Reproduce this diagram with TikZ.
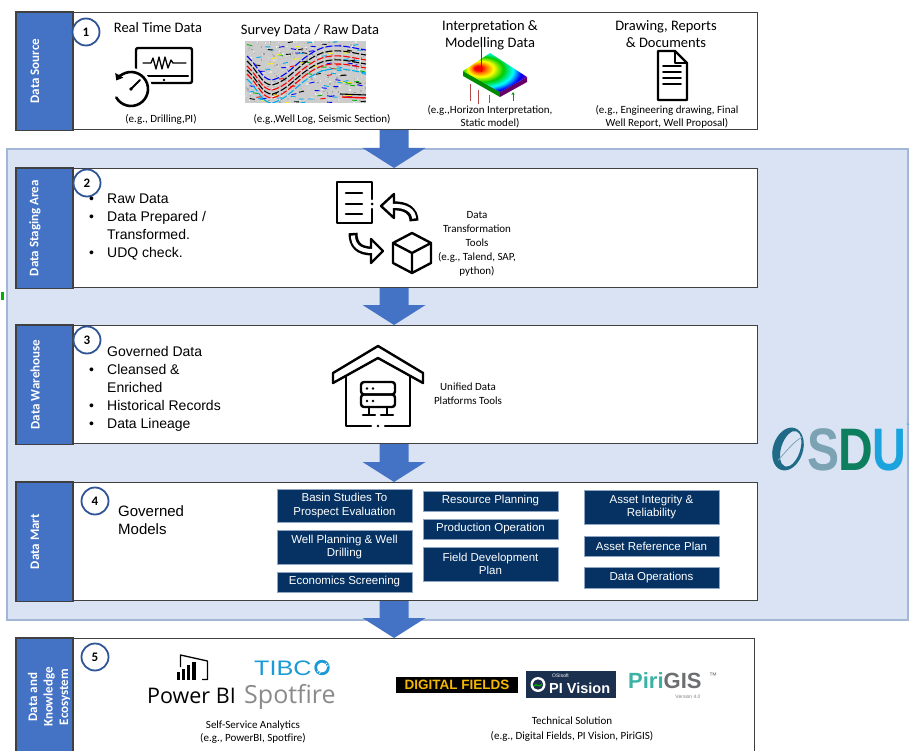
\documentclass[tikz,border=0pt]{standalone}
\usepackage{fontspec}
\setmainfont{Carlito}
\newfontfamily\arialf{Liberation Sans}
\newfontfamily\opensf{Open Sans}
\usetikzlibrary{arrows.meta}

\definecolor{bandblue}{HTML}{4472C4}
\definecolor{flowblue}{HTML}{4472C4}
\definecolor{panelfill}{HTML}{DAE3F3}
\definecolor{paneledge}{HTML}{A3B6D6}
\definecolor{boxedge}{HTML}{404040}
\definecolor{ringblue}{HTML}{2F5597}
\definecolor{navy}{HTML}{053263}
\definecolor{navyedge}{HTML}{8FA5C2}
\definecolor{tibco}{HTML}{1C9AD6}
\definecolor{spotgrey}{HTML}{8A8A8A}
\definecolor{dfyellow}{HTML}{F5B800}
\definecolor{pinavy}{HTML}{1B2F4E}
\definecolor{piri}{HTML}{3BB3A4}
\definecolor{gisgrey}{HTML}{6D6E70}
\definecolor{osdO}{HTML}{1F6B87}
\definecolor{osdS}{HTML}{7BA3B3}
\definecolor{osdD}{HTML}{0E7F5E}
\definecolor{osdU}{HTML}{1AA3DD}

% colour map of the horizon model
\pgfdeclareradialshading{heatmap}{\pgfpoint{-14bp}{6bp}}{color(0bp)=(red!90!black); color(3bp)=(red); color(6bp)=(orange); color(10bp)=(yellow); color(16bp)=(green!80!black); color(22bp)=(cyan); color(27bp)=(blue); color(32bp)=(violet); color(50bp)=(magenta!60!blue)}

% wide blue arrow from the bottom of one stage to the top of the next
\newcommand\blockarrow[2]{%
  \fill[flowblue] ([xshift=-7.5pt]#1.south) -- ([xshift=21.5pt]#1.south)
    -- ([xshift=21.5pt,yshift=20pt]#1.south |- #2.north)
    -- ([xshift=38.5pt,yshift=20pt]#1.south |- #2.north)
    -- ([xshift=7pt]#1.south |- #2.north)
    -- ([xshift=-24.5pt,yshift=20pt]#1.south |- #2.north)
    -- ([xshift=-7.5pt,yshift=20pt]#1.south |- #2.north) -- cycle;}

\begin{document}
\begin{tikzpicture}[x=1pt,y=-1pt,
  stage/.style={draw=boxedge, line width=1.1, fill=white, anchor=north west, inner sep=0, minimum width=741},
  band/.style={fill=bandblue, draw=boxedge, line width=1.1},
  bandtxt/.style={text=white, rotate=90, align=center, inner sep=0, font=\bfseries\fontsize{13}{15.5}\selectfont},
  stepno/.style={circle, draw=ringblue, line width=1.8, fill=white, minimum size=27, inner sep=0, font=\bfseries\fontsize{13}{13}\selectfont},
  head/.style={align=center, inner sep=0, font=\fontsize{14.5}{17.5}\selectfont},
  note/.style={align=center, inner sep=0, font=\fontsize{11}{13}\selectfont},
  tool/.style={align=center, inner sep=0, font=\fontsize{11}{14}\selectfont},
  btxt/.style={anchor=base west, inner sep=0, font=\arialf\fontsize{14}{18}\selectfont},
  model/.style={fill=navy, draw=navyedge, line width=0.6, text=white, align=center, inner sep=0, minimum width=135, font=\arialf\fontsize{11.5}{13.5}\selectfont},
  icon/.style={line width=2.4, line join=round, line cap=round},
]
\useasboundingbox (0,0) rectangle (910,751);
\fill[white] (0,0) rectangle (910,751);

% shared background of stages 2-4
\filldraw[fill=panelfill, draw=paneledge, line width=1.2] (7,149) rectangle (908,620);
\fill[green!70!black] (1,292) rectangle (4,300);

% stage frames
\node[stage, minimum height=117] (s1) at (16,12) {};
\node[stage, minimum height=119] (s2) at (16,168) {};
\node[stage, minimum height=118] (s3) at (16,325) {};
\node[stage, minimum height=118] (s4) at (16,482) {};
\node[stage, minimum height=125, minimum width=738] (s5) at (16,638) {};

\blockarrow{s1}{s2}
\blockarrow{s2}{s3}
\blockarrow{s3}{s4}
\blockarrow{s4}{s5}

% side bands
\filldraw[band] (s1.north west) rectangle ([xshift=57pt]s1.south west);
\filldraw[band] (s2.north west) rectangle ([xshift=57pt]s2.south west);
\filldraw[band] (s3.north west) rectangle ([xshift=57pt]s3.south west);
\filldraw[band] (s4.north west) rectangle ([xshift=57pt]s4.south west);
\filldraw[band] (s5.north west) rectangle ([xshift=57pt]s5.south west);
\node[bandtxt] (b1) at ([xshift=19pt]s1.west) {Data Source};
\node[bandtxt] (b2) at ([xshift=19pt]s2.west) {Data Staging Area};
\node[bandtxt] (b3) at ([xshift=19pt]s3.west) {Data Warehouse};
\node[bandtxt] (b4) at ([xshift=19pt]s4.west) {Data Mart};
\node[bandtxt] (b5) at (49,697) {Data and\\Knowledge\\Ecosystem};

% step numbers
\node[stepno] (n1) at (86,32) {1};
\node[stepno] (n2) at (87,183) {2};
\node[stepno] (n3) at (87,340) {3};
\node[stepno] (n4) at (95,501) {4};
\node[stepno] (n5) at (95,657) {5};

% ---------------- stage 1: data source ----------------
\node[head] (t11) at (158,28) {Real Time Data};
\node[head] (t12) at (310,31) {Survey Data / Raw Data};
\node[head] (t13) at (490,35) {Interpretation \&\\Modelling Data};
\node[head] (t14) at (666,34) {Drawing, Reports\\\& Documents};
\node[note] (e11) at (161,119) {(e.g., Drilling,PI)};
\node[note] (e12) at (322,119) {(e.g.,Well Log, Seismic Section)};
\node[note] (e13) at (490,116.5) {(e.g.,Horizon Interpretation,\\Static model)};
\node[note] (e14) at (667,116.5) {(e.g., Engineering drawing, Final\\Well Report, Well Proposal)};

% monitor with a pulse and a clock
\begin{scope}[icon]
  \draw[rounded corners=2] (136,48) rectangle (192,83);
  \draw (140,76) -- (188,76);
  \fill (164,80) circle (1.3);
  \draw[line width=1.3] (143,63) -- (151,63) -- (153,58) -- (156,69) -- (159,57) -- (162,69) -- (165,57) -- (168,68) -- (171,60) -- (173,63) -- (186,63);
  \fill[white] (131,89) circle (21);
  \draw[line width=2.6, -{Triangle[length=6pt,width=9pt]}] (131,89) ++(150:17) arc[start angle=150, end angle=-150, radius=17];
  \draw[line width=1.8] (131,89) -- (140,80);
  \fill (131,89) circle (1.8);
\end{scope}

% seismic section
\begin{scope}
  \clip (245,41) rectangle (366,103);
  \fill[gray!40] (245,41) rectangle (366,103);
  \pgfmathsetseed{11}
  \foreach \k in {1,...,420}{
    \pgfmathsetmacro\sx{245+121*rnd}
    \pgfmathsetmacro\sy{41+62*rnd}
    \pgfmathsetmacro\gs{int(10+70*rnd)}
    \fill[gray!\gs] (\sx,\sy) rectangle ++(1.5,1.5);
  }
  \pgfmathdeclarerandomlist{seis}{{blue}{cyan}{yellow}{red}{black}{blue}{cyan}{green!70!black}}
  \foreach \k in {1,...,110}{
    \pgfmathsetmacro\sx{243+120*rnd}
    \pgfmathsetmacro\sy{41+62*rnd}
    \pgfmathrandomitem{\sc}{seis}
    \draw[\sc, line width=0.9] (\sx,\sy) -- ++(5,{1.2*rand});
  }
  \foreach \dy/\cc in {-10/blue, -5/black, 0/red, 4/black, 8/red, 13/cyan}{
    \draw[\cc, line width=1.1, dash pattern=on 7pt off 2pt] (247,{66+\dy}) .. controls (258,{76+\dy}) and (262,{90+\dy}) .. (272,{90+\dy}) .. controls (290,{86+\dy}) and (300,{66+\dy}) .. (322,{58+\dy}) .. controls (338,{53+\dy}) and (352,{58+\dy}) .. (366,{60+\dy});
  }
  \draw[red, line width=1.4] (342,97) -- (366,98);
  \draw[black, line width=1.1] (340,94) -- (366,95);
\end{scope}

% horizon model block
\fill[green!55!black] (463,71) -- (500,92) -- (500,97) -- (463,76) -- cycle;
\fill[violet!80!black] (500,92) -- (527,77) -- (527,82) -- (500,97) -- cycle;
\shade[shading=heatmap] (463,71) -- (490,53) -- (527,77) -- (500,92) -- cycle;
\draw[red!80!black, line width=0.8] (481,47) -- (481,72);
\draw[red!40!gray, line width=0.6] (470,84) -- (470,101) (478,90) -- (478,104) (489,95) -- (489,103);
\draw[green!60!black, line width=1, -{Stealth[length=3pt,width=3pt]}] (513,101) -- (513,92);

% document
\begin{scope}[icon, line width=2.2]
  \draw (658,51) -- (675,51) -- (687,63) -- (687,100) -- (658,100) -- cycle;
  \draw (675,51) -- (675,63) -- (687,63);
  \foreach \yy in {66,72,78,84} \draw[line width=1.8] (663,\yy) -- (681,\yy);
\end{scope}

% ---------------- stage 2: staging ----------------
\node[btxt] (d21) at (89,204) {•};
\node[btxt] (l21) at (107,204) {Raw Data};
\node[btxt] (d22) at (89,222) {•};
\node[btxt] (l22) at (107,222) {Data Prepared /};
\node[btxt] (l23) at (107,240) {Transformed.};
\node[btxt] (d24) at (89,258) {•};
\node[btxt] (l24) at (107,258) {UDQ check.};
\node[tool] (tt2) at (477,244) {Data\\Transformation\\Tools\\(e.g., Talend, SAP,\\python)};

% transformation icon: sheet, two turning arrows, cube
\begin{scope}[icon, line width=2.6]
  \draw (372,199) -- (372,182) -- (337,182) -- (337,223) -- (372,223) -- (372,209);
  \fill (372,204) circle (1.5);
  \foreach \yy in {193,204,214} \draw (346,\yy) -- (362,\yy);
\end{scope}
\draw[line width=9] (392,206) .. controls (406,205) and (414,211) .. (414,221);
\filldraw[fill=white, line width=2.4, line join=round] (381,206) -- (394,194) -- (394,218) -- cycle;
\draw[white, line width=4, shorten >=2.5pt] (391,206) -- (392,206) .. controls (406,205) and (414,211) .. (414,221);
\draw[line width=9] (353,233) .. controls (353,245) and (359,251) .. (372,251);
\filldraw[fill=white, line width=2.4, line join=round] (383,251) -- (371,239) -- (371,263) -- cycle;
\draw[white, line width=4, shorten <=2.5pt] (353,233) .. controls (353,245) and (359,251) .. (372,251) -- (374,251);
\begin{scope}[icon]
  \draw (412,233) -- (431,243) -- (431,263) -- (412,273) -- (393,263) -- (393,243) -- cycle;
  \draw (393,243) -- (412,253) -- (431,243) (412,253) -- (412,273);
\end{scope}

% ---------------- stage 3: warehouse ----------------
\node[btxt] (l31) at (107,356) {Governed Data};
\node[btxt] (d32) at (89,374) {•};
\node[btxt] (l32) at (107,374) {Cleansed \&};
\node[btxt] (l33) at (107,392) {Enriched};
\node[btxt] (d34) at (89,410) {•};
\node[btxt] (l34) at (107,410) {Historical Records};
\node[btxt] (d35) at (89,428) {•};
\node[btxt] (l35) at (107,428) {Data Lineage};
\node[tool] (tt3) at (468,394) {Unified Data\\Platforms Tools};

% house with a server rack
\begin{scope}[icon]
  \draw (333,373) -- (378,346) -- (423,373) -- (423,383) -- (378,358) -- (333,383) -- cycle;
  \draw (346,376) -- (346,426) -- (371,426);
  \draw (385,426) -- (410,426) -- (410,376);
  \fill (378,426) circle (1.4);
  \draw[rounded corners=3] (361,382) rectangle (395,394.5);
  \draw[rounded corners=3] (361,394.5) rectangle (395,407);
  \draw (369,407) -- (369,415) (363,415) -- (375,415);
  \draw (387,407) -- (387,415) (381,415) -- (393,415);
\end{scope}
\foreach \px/\py in {367/388.5,373/388.5,367/401,373/401} \fill (\px,\py) circle (1.3);

% ---------------- stage 4: data mart ----------------
\node[anchor=west, align=left, inner sep=0, font=\arialf\fontsize{15}{18}\selectfont] (gm) at (118,520) {Governed\\Models};
\node[model, minimum height=33] (m11) at (344.5,505.5) {Basin Studies To\\Prospect Evaluation};
\node[model, minimum height=34] (m12) at (344.5,547) {Well Planning \& Well\\Drilling};
\node[model, minimum height=20] (m13) at (344.5,582) {Economics Screening};
\node[model, minimum height=20] (m21) at (490.5,501) {Resource Planning};
\node[model, minimum height=20] (m22) at (490.5,529) {Production Operation};
\node[model, minimum height=34] (m23) at (490.5,564) {Field Development\\Plan};
\node[model, minimum height=34] (m31) at (651.5,507) {Asset Integrity \&\\Reliability};
\node[model, minimum height=20] (m32) at (651.5,546) {Asset Reference Plan};
\node[model, minimum height=21] (m33) at (651.5,577.5) {Data Operations};

% ---------------- OSDU mark ----------------
\fill[osdO, even odd rule, shift={(788,449)}, rotate=-18] (0,0) ellipse [x radius=15, y radius=22] (2.5,-1) ellipse [x radius=9.5, y radius=18.5];
\draw[osdO!60!white, line width=0.8, shift={(788,449)}, rotate=-18] (-6,14) .. controls (0,0) and (4,-10) .. (10,-16);
\node[anchor=base, inner sep=0, xscale=0.8, text=osdS, font=\arialf\bfseries\fontsize{60}{60}\selectfont] (oS) at (823.5,470) {S};
\node[anchor=base, inner sep=0, xscale=0.8, text=osdD, font=\arialf\bfseries\fontsize{60}{60}\selectfont] (oD) at (856,470) {D};
\node[anchor=base, inner sep=0, xscale=0.78, text=osdU, font=\arialf\bfseries\fontsize{60}{60}\selectfont] (oU) at (889,470) {U};
\node[anchor=south west, inner sep=0, text=osdU, font=\arialf\fontsize{3.5}{3.5}\selectfont] (oTM) at (906,427) {™};

% ---------------- stage 5: ecosystem ----------------
% Power BI mark
\draw[line width=1.3, line join=round] (180.5,667) -- (180.5,655) -- (207.5,661) -- (207.5,679.5) -- (202,679.5);
\fill (177,672) rectangle (179.5,680);
\fill (181.5,668.5) rectangle (184.5,680);
\fill (186.5,665) rectangle (190,680);
\fill (192,662) rectangle (196,680);
\node[anchor=base west, inner sep=0, font=\opensf\fontsize{21.5}{24}\selectfont] (pbi) at (147,703) {Power BI};
\node[anchor=base west, inner sep=0, text=spotgrey, font=\opensf\fontsize{25}{27}\selectfont] (spf) at (244,703) {Spotfire};
\node[anchor=base west, inner sep=0, xscale=1.2, text=tibco, font=\arialf\fontsize{21}{22}\selectfont] (tib) at (254,675) {TIBC};
\draw[tibco, line width=2.8] (322,667.5) circle (6.3);
\draw[white, line width=0.7] (317,672) -- (327,663) (319,673.5) -- (328.5,665);
\node[note] (e51) at (253,732) {Self-Service Analytics\\(e.g., PowerBI, Spotfire)};

% Digital Fields, PI Vision and PiriGIS marks
\node[fill=black, text=dfyellow, minimum width=122, minimum height=16, inner sep=0, font=\arialf\bfseries\fontsize{13.5}{14}\selectfont] (dig) at (457,685) {DIGITAL FIELDS};
\fill[pinavy] (526,671) rectangle (616,698);
\fill[white] (538,684.5) circle (7.5);
\fill[pinavy] (538,684.5) circle (5.2);
\draw[green!70!black, line width=1.2] (534,686) .. controls (536,682) and (539,689) .. (542,684);
\node[anchor=base west, text=white, inner sep=0, font=\arialf\fontsize{5}{5}\selectfont] (osi) at (552,677.5) {OSIsoft};
\node[anchor=base west, text=white, inner sep=0, font=\arialf\bfseries\fontsize{14.5}{15}\selectfont] (piv) at (549,693) {PI Vision};
\node[anchor=base west, inner sep=0, font=\arialf\bfseries\fontsize{22}{22}\selectfont] (pir) at (628,688) {\textcolor{piri}{Piri}\textcolor{gisgrey}{GIS}};
\node[inner sep=0, text=gisgrey, font=\arialf\fontsize{8}{8}\selectfont] (ptm) at (713,676) {™};
\node[inner sep=0, text=gray, font=\arialf\fontsize{5}{5}\selectfont] (ver) at (688,697) {Version 4.0};
\node[note, font=\fontsize{11}{15}\selectfont] (e52) at (572,729.5) {Technical Solution\\(e.g., Digital Fields, PI Vision, PiriGIS)};
\end{tikzpicture}
\end{document}
